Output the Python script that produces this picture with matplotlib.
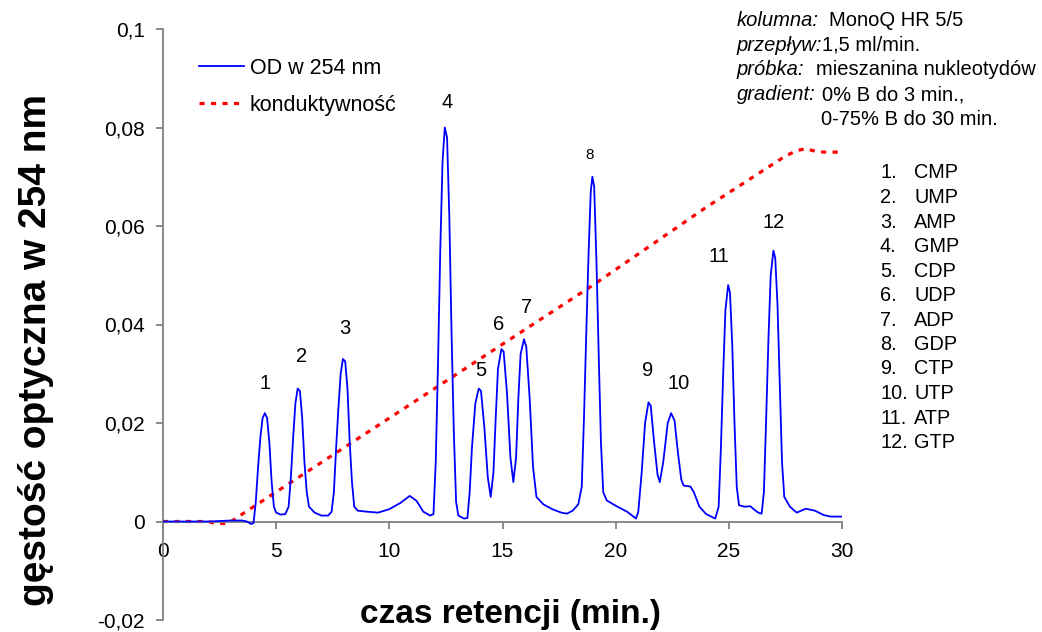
import matplotlib
matplotlib.use("Agg")
import matplotlib.pyplot as plt

plt.rcParams['font.family'] = ['Liberation Sans', 'DejaVu Sans']

# --- data ---
od_time = [0.0, 1.0, 2.0, 3.0, 3.5, 3.7, 3.9, 4.0, 4.1, 4.2, 4.3, 4.4, 4.5, 4.6, 4.7, 4.8, 4.9, 5.0,
           5.2, 5.4, 5.55, 5.65, 5.75, 5.85, 5.95, 6.05, 6.15, 6.25, 6.35, 6.45, 6.7, 7.0, 7.3,
           7.45, 7.55, 7.65, 7.75, 7.85, 7.95, 8.05, 8.15, 8.25, 8.35, 8.45, 8.6, 9.0, 9.5, 10.0,
           10.5, 10.9, 11.2, 11.5, 11.8, 11.95, 12.05, 12.15, 12.25, 12.35, 12.45, 12.55, 12.65,
           12.75, 12.85, 12.95, 13.05, 13.3, 13.45, 13.55, 13.65, 13.8, 13.95, 14.05, 14.2, 14.35,
           14.48, 14.6, 14.7, 14.8, 14.95, 15.05, 15.2, 15.35, 15.48, 15.6, 15.7, 15.8, 15.95,
           16.05, 16.2, 16.35, 16.5, 16.8, 17.2, 17.6, 17.85, 18.1, 18.35, 18.5, 18.6, 18.7, 18.8,
           18.9, 18.97, 19.05, 19.15, 19.25, 19.35, 19.45, 19.6, 20.0, 20.5, 20.9, 21.0, 21.15,
           21.3, 21.45, 21.55, 21.7, 21.85, 21.95, 22.1, 22.3, 22.45, 22.6, 22.75, 22.9, 23.0,
           23.3, 23.45, 23.7, 24.0, 24.4, 24.55, 24.65, 24.75, 24.85, 24.97, 25.05, 25.15, 25.25,
           25.35, 25.45, 25.7, 25.95, 26.1, 26.3, 26.45, 26.55, 26.65, 26.75, 26.85, 26.97, 27.05,
           27.15, 27.25, 27.35, 27.45, 27.7, 28.0, 28.4, 28.8, 29.2, 29.5, 30.0]
od_value = [0.0, 0.0, 0.0, 0.0002, 0.0002, 0.0, -0.0005, -0.0003, 0.004, 0.011, 0.017, 0.021, 0.022,
            0.021, 0.016, 0.008, 0.003, 0.0018,
            0.0014, 0.0015, 0.003, 0.009, 0.017, 0.024, 0.027, 0.0265, 0.021, 0.012, 0.006, 0.003,
            0.0018, 0.0012, 0.0012,
            0.002, 0.006, 0.015, 0.023, 0.030, 0.033, 0.0325, 0.027, 0.016, 0.008, 0.003, 0.0022,
            0.002, 0.0018, 0.0025,
            0.0038, 0.0052, 0.0042, 0.002, 0.0012, 0.0015, 0.012, 0.032, 0.055, 0.073, 0.080,
            0.078, 0.062,
            0.038, 0.018, 0.004, 0.0012, 0.0006, 0.0007, 0.006, 0.015, 0.024, 0.027, 0.0265, 0.019,
            0.009,
            0.005, 0.010, 0.021, 0.031, 0.035, 0.0345, 0.026, 0.013, 0.008, 0.013, 0.025, 0.034,
            0.037,
            0.0355, 0.025, 0.011, 0.005, 0.0035, 0.0025, 0.0018, 0.0016, 0.0022, 0.0035, 0.007,
            0.021, 0.038, 0.054,
            0.067, 0.070, 0.068, 0.053, 0.034, 0.016, 0.006, 0.0043, 0.0032, 0.002, 0.0006, 0.002,
            0.010,
            0.020, 0.0242, 0.0235, 0.016, 0.0095, 0.008, 0.012, 0.020, 0.022, 0.0205, 0.014, 0.0085,
            0.0073,
            0.0071, 0.006, 0.003, 0.0015, 0.0006, 0.003, 0.015, 0.030, 0.043, 0.048, 0.0465, 0.036,
            0.020,
            0.007, 0.0033, 0.003, 0.0031, 0.0025, 0.0018, 0.0016, 0.006, 0.021, 0.037, 0.050, 0.055,
            0.0535,
            0.044, 0.028, 0.012, 0.005, 0.003, 0.0018, 0.0026, 0.0022, 0.0013, 0.001, 0.001]

cond_time = [0.0, 2.0, 2.3, 2.9, 3.2, 8.0, 19.0, 24.0, 27.5, 28.0, 28.4, 28.8, 29.2, 30.0]
cond_value = [0.0, 0.0, -0.0004, -0.0004, 0.0006, 0.015, 0.048, 0.0638, 0.0742, 0.0753, 0.0757,
              0.0752, 0.0750, 0.0750]

peak_labels = ['1', '2', '3', '4', '5', '6', '7', '8', '9', '10', '11', '12']
peak_label_x = [4.51, 6.14, 8.04, 12.55, 14.05, 14.85, 16.08, 18.87, 21.39, 22.80, 24.57, 27.00]
peak_label_y = [0.0281, 0.0336, 0.0392, 0.0850, 0.0307, 0.0399, 0.0435, 0.0745, 0.0307, 0.0281,
                0.0539, 0.0608]

compound_numbers = ['1.', '2.', '3.', '4.', '5.', '6.', '7.', '8.', '9.', '10.', '11.', '12.']
compound_names = ['CMP', 'UMP', 'AMP', 'GMP', 'CDP', 'UDP', 'ADP', 'GDP', 'CTP', 'UTP', 'ATP', 'GTP']

info_keys = ['kolumna:', 'przepływ:', 'próbka:', 'gradient:', '']
info_values = ['MonoQ HR 5/5', '1,5 ml/min.', 'mieszanina nukleotydów', '0% B do 3 min.,',
               '0-75% B do 30 min.']

x_ticks = [0, 5, 10, 15, 20, 25, 30]
y_ticks = [-0.02, 0, 0.02, 0.04, 0.06, 0.08, 0.1]
y_tick_labels = ['-0,02', '0', '0,02', '0,04', '0,06', '0,08', '0,1']

# --- figure ---
W, H = 1042, 632
fig = plt.figure(figsize=(W / 100, H / 100), dpi=100)
ax = fig.add_axes([163 / W, 1 - 620 / H, (842 - 163) / W, (620 - 29) / H])

ax.plot(od_time, od_value, color='#0000ff', lw=1.3, label='OD w 254 nm', zorder=3)
ax.plot(cond_time, cond_value, color='#ff0000', lw=2.3, linestyle=(0, (1.6, 2.0)),
        label='konduktywność', zorder=2)

ax.set_xlim(0, 30)
ax.set_ylim(-0.02, 0.1)

for s in ['top', 'right']:
    ax.spines[s].set_visible(False)
ax.spines['bottom'].set_position(('data', 0))
for s in ['bottom', 'left']:
    ax.spines[s].set_color('#808080')
    ax.spines[s].set_linewidth(1.3)

ax.set_xticks(x_ticks)
ax.set_xticklabels([str(v) for v in x_ticks])
ax.set_yticks(y_ticks)
ax.set_yticklabels(y_tick_labels)
ax.tick_params(axis='x', direction='out', length=5, width=1.3, color='#808080',
               labelsize=15, pad=10)
ax.tick_params(axis='y', direction='out', length=5, width=1.3, color='#808080',
               labelsize=15, pad=8)

# peak labels
for lab, xx, yy in zip(peak_labels, peak_label_x, peak_label_y):
    fs = 11 if lab == '8' else 14.5
    ax.text(xx, yy, lab, fontsize=fs, ha='center', va='center', color='black')

# legend
leg = ax.legend(loc='upper left',
                bbox_to_anchor=((190 - 163) / (842 - 163), 1 - (49 - 29) / (620 - 29)),
                frameon=False, fontsize=15.5, handlelength=2.1, handletextpad=0.28,
                labelspacing=0.76, borderaxespad=0)

# axis titles
fig.text(510 / W, 1 - 615 / H, 'czas retencji (min.)', fontsize=24, fontweight='bold',
         ha='center', va='center')
fig.text(36 / W, 1 - 350 / H, 'gęstość optyczna w 254 nm', fontsize=28, fontweight='bold',
         ha='center', va='center', rotation=90)

# info block
info_value_x = [829, 822, 816, 822, 821]
for i, (k, v) in enumerate(zip(info_keys, info_values)):
    yy = 1 - (20.5 + 24.7 * i) / H
    if k:
        fig.text(737 / W, yy, k, fontsize=14.5, style='italic', ha='left', va='center')
    fig.text(info_value_x[i] / W, yy, v, fontsize=14.5, ha='left', va='center')

# compound list
for i, (n, c) in enumerate(zip(compound_numbers, compound_names)):
    yy = 1 - (173 + 24.5 * i) / H
    fig.text(880 / W, yy, n, fontsize=14.3, ha='left', va='center')
    fig.text(914 / W, yy, c, fontsize=14.3, ha='left', va='center')

fig.savefig('out.png', dpi=100)
